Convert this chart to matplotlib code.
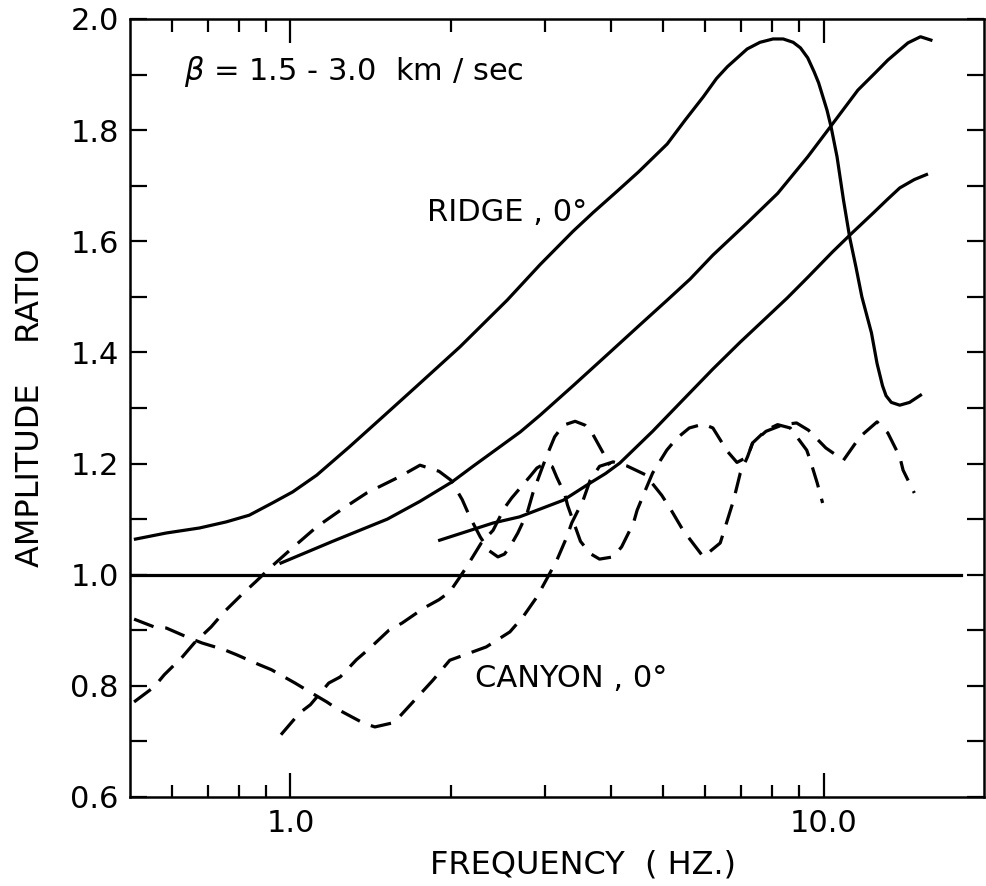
import matplotlib
matplotlib.use("Agg")
import matplotlib.pyplot as plt
from matplotlib.ticker import NullFormatter

plt.rcParams['font.family'] = ['DejaVu Sans']
plt.rcParams['lines.scale_dashes'] = False

# ridge curves (solid), frequency in Hz and amplitude ratio
ridge1_f = [0.512, 0.585, 0.675, 0.758, 0.837, 0.925, 1.01, 1.12, 1.29, 1.49, 1.72, 2.08,
            2.55, 2.94, 3.39, 3.7, 4.1, 4.5, 5.09, 5.5, 5.95, 6.3, 6.6, 7.19, 7.6, 8.04,
            8.4, 8.77, 9.05, 9.34, 9.6, 9.79, 10.15, 10.33, 10.6, 10.9, 11.2, 11.5, 11.8,
            12.3, 12.6, 12.9, 13.1, 13.4, 13.9, 14.5, 15.2]
ridge1_a = [1.064, 1.075, 1.084, 1.095, 1.107, 1.129, 1.149, 1.179, 1.23, 1.284, 1.338, 1.41,
            1.494, 1.558, 1.618, 1.652, 1.69, 1.725, 1.775, 1.818, 1.86, 1.893, 1.914, 1.946,
            1.958, 1.964, 1.964, 1.958, 1.948, 1.93, 1.905, 1.885, 1.836, 1.806, 1.752, 1.674,
            1.606, 1.554, 1.5, 1.435, 1.38, 1.34, 1.322, 1.31, 1.305, 1.31, 1.323]

ridge2_f = [0.96, 1.2, 1.52, 1.75, 2.01, 2.2, 2.47, 2.7, 2.94, 3.39, 3.92, 4.53, 5.09, 5.62,
            6.2, 7.19, 8.2, 9.34, 10.3, 11.6, 12.5, 13.2, 14.4, 15.2, 15.9]
ridge2_a = [1.021, 1.06, 1.1, 1.132, 1.167, 1.195, 1.23, 1.257, 1.287, 1.34, 1.395, 1.45,
            1.494, 1.532, 1.575, 1.633, 1.686, 1.752, 1.806, 1.872, 1.903, 1.926, 1.957, 1.968,
            1.962]

ridge3_f = [1.905, 2.4, 2.69, 3.25, 3.65, 3.9, 4.15, 4.78, 5.38, 6.2, 6.97, 7.8, 8.55, 9.34,
            10.4, 11.2, 12.4, 13.2, 13.9, 14.8, 15.6]
ridge3_a = [1.062, 1.093, 1.104, 1.134, 1.165, 1.182, 1.201, 1.258, 1.309, 1.37, 1.418, 1.462,
            1.498, 1.535, 1.581, 1.611, 1.651, 1.676, 1.696, 1.711, 1.72]

# canyon curves (dashed)
canyon1_f = [0.509, 0.555, 0.58, 0.627, 0.66, 0.71, 0.751, 0.81, 0.86, 0.92, 1.0, 1.12, 1.25,
             1.39, 1.6, 1.75, 1.9, 2.0, 2.1, 2.17, 2.27, 2.36, 2.45, 2.52, 2.58, 2.67, 2.78,
             2.85, 2.96, 3.02, 3.13, 3.25, 3.42, 3.57, 3.68, 3.86, 3.97]
canyon1_a = [0.771, 0.798, 0.82, 0.852, 0.877, 0.906, 0.933, 0.964, 0.987, 1.014, 1.045, 1.086,
             1.118, 1.147, 1.176, 1.197, 1.186, 1.17, 1.135, 1.104, 1.068, 1.043, 1.032, 1.037,
             1.05, 1.075, 1.111, 1.147, 1.19, 1.212, 1.248, 1.269, 1.276, 1.269, 1.255, 1.219,
             1.197]

canyon2_f = [0.96, 1.04, 1.09, 1.18, 1.24, 1.33, 1.41, 1.53, 1.62, 1.78, 1.9, 1.99, 2.08, 2.14,
             2.28, 2.4, 2.52, 2.6, 2.81, 2.9, 3.0, 3.1, 3.16, 3.27, 3.31, 3.39, 3.5, 3.65,
             3.8, 4.03, 4.18, 4.4, 4.47, 4.66, 4.78, 5.08, 5.3, 5.6, 5.95, 6.2, 6.6, 6.88,
             7.2, 7.36, 7.8, 8.2, 8.66, 9.3, 9.44, 9.73, 9.96]
canyon2_a = [0.712, 0.751, 0.766, 0.805, 0.816, 0.847, 0.868, 0.9, 0.913, 0.94, 0.955, 0.969,
             0.996, 1.014, 1.057, 1.08, 1.12, 1.138, 1.176, 1.192, 1.2, 1.194, 1.175, 1.145,
             1.125, 1.097, 1.06, 1.038, 1.028, 1.032, 1.05, 1.093, 1.116, 1.158, 1.183, 1.224,
             1.245, 1.264, 1.271, 1.264, 1.222, 1.202, 1.212, 1.237, 1.26, 1.27, 1.264, 1.224,
             1.206, 1.165, 1.129]

canyon3_f = [0.509, 0.555, 0.585, 0.646, 0.683, 0.751, 0.792, 0.874, 0.921, 1.02, 1.07, 1.17,
             1.23, 1.37, 1.44, 1.55, 1.6, 1.85, 1.99, 2.33, 2.58, 2.73, 2.9, 3.04, 3.16, 3.3,
             3.37, 3.54, 3.65, 3.8, 4.03, 4.27, 4.63, 4.97, 5.15, 5.45, 5.95, 6.4, 6.63,
             6.78, 6.98, 7.2, 7.36, 7.8, 8.4, 8.9, 9.37, 10.1, 10.9, 11.7, 12.6, 13.2, 13.9,
             14.1, 14.8]
canyon3_a = [0.92, 0.906, 0.904, 0.886, 0.877, 0.865, 0.856, 0.838, 0.829, 0.805, 0.793, 0.771,
             0.757, 0.733, 0.726, 0.733, 0.744, 0.81, 0.846, 0.87, 0.897, 0.924, 0.96, 0.996,
             1.026, 1.068, 1.093, 1.134, 1.17, 1.195, 1.203, 1.196, 1.18, 1.143, 1.12, 1.08,
             1.032, 1.057, 1.104, 1.134, 1.183, 1.212, 1.237, 1.258, 1.27, 1.273, 1.26, 1.228,
             1.206, 1.248, 1.275, 1.255, 1.212, 1.188, 1.147]

unity_f = [0.5, 18.1]
unity_a = [1.0, 1.0]

fig = plt.figure(figsize=(9.86, 8.86), dpi=100)
ax = fig.add_axes([0.1318, 0.1005, 0.8662, 0.8781])

lw = 2.3
ax.plot(ridge1_f, ridge1_a, color='black', lw=lw)
ax.plot(ridge2_f, ridge2_a, color='black', lw=lw)
ax.plot(ridge3_f, ridge3_a, color='black', lw=lw)
ax.plot(unity_f, unity_a, color='black', lw=lw)
for cf, ca in [(canyon1_f, canyon1_a), (canyon2_f, canyon2_a), (canyon3_f, canyon3_a)]:
    ax.plot(cf, ca, color='black', lw=lw, dashes=(15, 8.5))

ax.set_xscale('log')
ax.set_xlim(0.5, 20)
ax.set_ylim(0.6, 2.0)

ax.set_xticks([1, 10])
ax.set_xticklabels(["1.0", "10.0"])
ax.set_xticks([0.6, 0.7, 0.8, 0.9, 2, 3, 4, 5, 6, 7, 8, 9], minor=True)
ax.xaxis.set_minor_formatter(NullFormatter())
ax.set_yticks([0.6, 0.8, 1.0, 1.2, 1.4, 1.6, 1.8, 2.0])
ax.set_yticklabels(["0.6", "0.8", "1.0", "1.2", "1.4", "1.6", "1.8", "2.0"])
ax.set_yticks([0.7, 0.9, 1.1, 1.3, 1.5, 1.7, 1.9], minor=True)

ax.tick_params(which='both', direction='in', top=True, right=True, width=1.6,
               labelsize=22, colors='black')
ax.tick_params(axis='x', which='major', length=17, pad=9)
ax.tick_params(axis='x', which='minor', length=9)
ax.tick_params(axis='y', which='both', length=12, pad=8)
for s in ax.spines.values():
    s.set_linewidth(1.8)

ax.set_xlabel("FREQUENCY  ( HZ.)", fontsize=23)
ax.xaxis.set_label_coords(0.531, -0.088)
ax.xaxis.label.set_va('center')
ax.set_ylabel("AMPLITUDE    RATIO", fontsize=23)
ax.yaxis.set_label_coords(-0.117, 0.5)
ax.yaxis.label.set_va('center')

ax.text(0.632, 1.905, r"$\beta$ = 1.5 - 3.0  km / sec", fontsize=22, va='center')
ax.text(1.8, 1.651, "RIDGE , 0°", fontsize=22, va='center')
ax.text(2.22, 0.814, "CANYON , 0°", fontsize=22, va='center')

fig.savefig("out.png", dpi=100)
